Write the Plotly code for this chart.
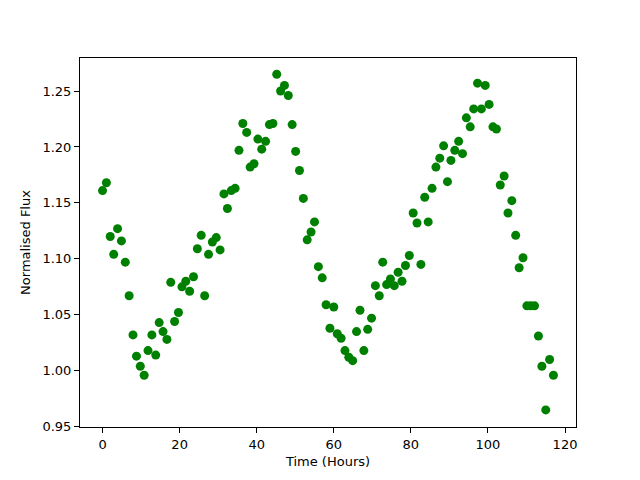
import plotly.graph_objects as go

time_hours = [0.0, 1.0, 2.0, 2.9, 3.9, 4.9, 5.9, 6.9, 7.9, 8.8,
              9.8, 10.8, 11.8, 12.8, 13.8, 14.7, 15.7, 16.7, 17.7, 18.7,
              19.7, 20.6, 21.6, 22.6, 23.6, 24.6, 25.6, 26.5, 27.5, 28.5,
              29.5, 30.5, 31.5, 32.4, 33.4, 34.4, 35.4, 36.4, 37.4, 38.3,
              39.3, 40.3, 41.3, 42.3, 43.3, 44.2, 45.2, 46.2, 47.2, 48.2,
              49.2, 50.1, 51.1, 52.1, 53.1, 54.1, 55.0, 56.0, 57.0, 58.0,
              59.0, 60.0, 60.9, 61.9, 62.9, 63.9, 64.9, 65.9, 66.8, 67.8,
              68.8, 69.8, 70.8, 71.8, 72.7, 73.7, 74.7, 75.7, 76.7, 77.7,
              78.6, 79.6, 80.6, 81.6, 82.6, 83.6, 84.5, 85.5, 86.5, 87.5,
              88.5, 89.5, 90.4, 91.4, 92.4, 93.4, 94.4, 95.4, 96.3, 97.3,
              98.3, 99.3, 100.3, 101.3, 102.2, 103.2, 104.2, 105.2, 106.2, 107.2,
              108.1, 109.1, 110.1, 111.1, 112.1, 113.1, 114.0, 115.0, 116.0, 117.0]

normalised_flux = [1.161, 1.168, 1.120, 1.104, 1.127, 1.116, 1.097, 1.067, 1.032, 1.013,
                   1.004, 0.996, 1.018, 1.032, 1.014, 1.043, 1.035, 1.028, 1.079, 1.044,
                   1.052, 1.075, 1.080, 1.071, 1.084, 1.109, 1.121, 1.067, 1.104, 1.115,
                   1.119, 1.108, 1.158, 1.145, 1.161, 1.163, 1.197, 1.221, 1.213, 1.182,
                   1.185, 1.207, 1.198, 1.205, 1.220, 1.221, 1.265, 1.250, 1.255, 1.246,
                   1.220, 1.196, 1.179, 1.154, 1.117, 1.124, 1.133, 1.093, 1.083, 1.059,
                   1.038, 1.057, 1.033, 1.029, 1.018, 1.012, 1.009, 1.035, 1.054, 1.018,
                   1.037, 1.047, 1.076, 1.067, 1.097, 1.077, 1.082, 1.076, 1.088, 1.080,
                   1.094, 1.103, 1.141, 1.132, 1.095, 1.155, 1.133, 1.163, 1.182, 1.190,
                   1.201, 1.169, 1.188, 1.197, 1.205, 1.194, 1.226, 1.218, 1.234, 1.257,
                   1.234, 1.255, 1.238, 1.218, 1.216, 1.166, 1.174, 1.141, 1.152, 1.121,
                   1.092, 1.101, 1.058, 1.058, 1.058, 1.031, 1.004, 0.965, 1.010, 0.996]

x_ticks = [0, 20, 40, 60, 80, 100, 120]
y_ticks = [0.95, 1.00, 1.05, 1.10, 1.15, 1.20, 1.25]

fig = go.Figure()
fig.add_trace(go.Scatter(
    x=time_hours, y=normalised_flux, mode="markers",
    marker=dict(color="#008000", size=9, line=dict(width=0)),
    showlegend=False,
))

axis_common = dict(
    showline=True, linecolor="black", linewidth=1, mirror=True,
    ticks="outside", ticklen=5, tickwidth=1, tickcolor="black",
    showgrid=False, zeroline=False,
    tickfont=dict(family="DejaVu Sans", size=13, color="black"),
)

# The page has an 8px body margin, so margins are offset accordingly.
fig.update_layout(
    width=640, height=480,
    margin=dict(l=72, r=72, t=50, b=61),
    paper_bgcolor="white", plot_bgcolor="white",
    font=dict(family="DejaVu Sans", size=13, color="black"),
    xaxis=dict(range=[-5.85, 122.85], tickvals=x_ticks,
               ticktext=[str(v) for v in x_ticks],
               title=dict(text="Time (Hours)", standoff=6,
                          font=dict(family="DejaVu Sans", size=13)),
               **axis_common),
    yaxis=dict(range=[0.9497, 1.2795], tickvals=y_ticks,
               ticktext=["%.2f" % v for v in y_ticks],
               title=dict(text="Normalised Flux", standoff=8,
                          font=dict(family="DejaVu Sans", size=13)),
               **axis_common),
)

fig.write_html("out.html")
